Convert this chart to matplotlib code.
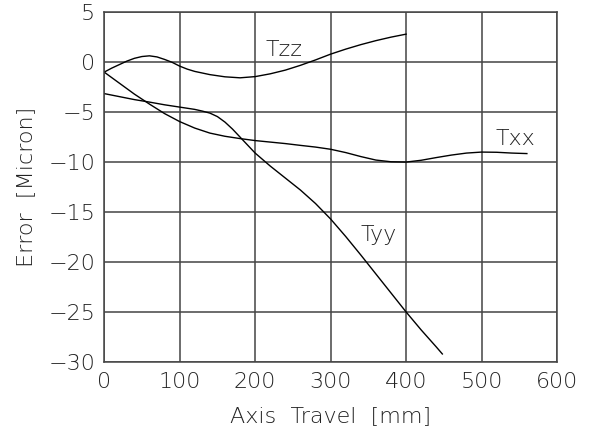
import matplotlib
matplotlib.use("Agg")
import matplotlib.pyplot as plt

plt.rcParams["font.family"] = ["DejaVu Sans"]
plt.rcParams["font.weight"] = "light"
plt.rcParams["axes.labelweight"] = "light"

# values (x in mm, error in micron)
x_zz = [0, 10, 20, 30, 40, 50, 60, 70, 80, 90, 100, 110, 120, 140, 160, 180, 200, 220, 240, 260, 280, 300,
        320, 340, 360, 380, 400]
t_zz = [-1.0, -0.6, -0.25, 0.1, 0.38, 0.56, 0.63, 0.52, 0.27, -0.02, -0.4, -0.7, -0.93, -1.25, -1.47, -1.57,
        -1.45, -1.17, -0.8, -0.32, 0.22, 0.8, 1.3, 1.75, 2.15, 2.5, 2.8]

x_xx = [0, 20, 40, 60, 80, 100, 120, 140, 160, 180, 200, 220, 240, 260, 280, 300, 320, 340, 360, 380, 400,
        420, 440, 460, 480, 500, 520, 540, 560]
t_xx = [-1.0, -2.1, -3.2, -4.2, -5.15, -5.95, -6.6, -7.1, -7.42, -7.65, -7.85, -8.0, -8.15, -8.33, -8.5, -8.72,
        -9.05, -9.45, -9.8, -9.97, -10.0, -9.82, -9.55, -9.3, -9.1, -9.0, -9.02, -9.1, -9.15]

x_yy = [0, 20, 40, 60, 80, 100, 120, 130, 140, 150, 160, 170, 180, 190, 200, 220, 240, 260, 280, 300, 320,
        340, 360, 380, 400, 420, 440, 448]
t_yy = [-3.15, -3.45, -3.75, -4.0, -4.27, -4.5, -4.73, -4.9, -5.1, -5.45, -6.0, -6.7, -7.5, -8.3, -9.1,
        -10.4, -11.6, -12.8, -14.15, -15.7, -17.45, -19.3, -21.2, -23.1, -25.0, -26.8, -28.5, -29.2]

x_ticks = [0, 100, 200, 300, 400, 500, 600]
y_ticks = [-30, -25, -20, -15, -10, -5, 0, 5]

grid_col = "#444444"
txt_col = "#222222"
fs = 16

fig = plt.figure(figsize=(5.92, 4.34), dpi=100)
ax = fig.add_axes([0.176, 0.166, 0.765, 0.806])

ax.plot(x_zz, t_zz, color="black", lw=1.0)
ax.plot(x_xx, t_xx, color="black", lw=1.0)
ax.plot(x_yy, t_yy, color="black", lw=1.0)

ax.text(238, 0.63, "Tzz", ha="center", va="baseline", fontsize=fs, color=txt_col)
ax.text(545, -8.34, "Txx", ha="center", va="baseline", fontsize=fs, color=txt_col)
ax.text(363, -17.85, "Tyy", ha="center", va="baseline", fontsize=fs, color=txt_col)

ax.set_xlim(0, 600)
ax.set_ylim(-30, 5)
ax.set_xticks(x_ticks)
ax.set_yticks(y_ticks)
ax.tick_params(length=0, labelsize=fs, labelcolor=txt_col)
ax.tick_params(axis="y", pad=6.5)
ax.tick_params(axis="x", pad=7)
ax.grid(True, color=grid_col, lw=1.1)
for s in ax.spines.values():
    s.set_color(grid_col)
    s.set_linewidth(1.1)

ax.set_xlabel("Axis  Travel  [mm]", fontsize=fs, color=txt_col)
ax.set_ylabel("Error  [Micron]", fontsize=fs, color=txt_col)
ax.xaxis.set_label_coords(0.5, -0.125)
ax.yaxis.set_label_coords(-0.151, 0.5)

fig.savefig("out.png", dpi=100)
